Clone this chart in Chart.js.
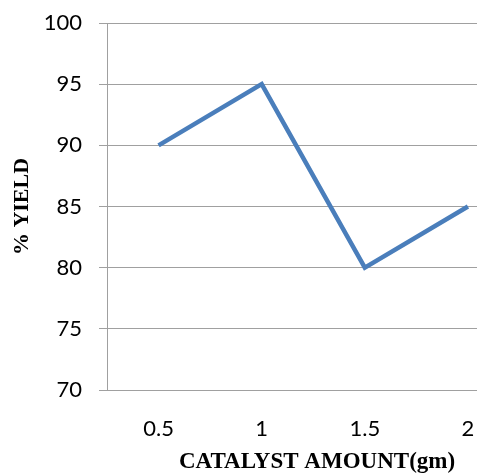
<!DOCTYPE html>
<html>
<head>
<meta charset="utf-8">
<script src="https://cdn.jsdelivr.net/npm/chart.js@4"></script>
<style>
  html, body { margin: 0; padding: 0; background: #fff; }
  #wrap { width: 477px; height: 473px; position: relative; }
</style>
</head>
<body>
<div id="wrap"><canvas id="c" width="477" height="473"></canvas></div>
<script>
// Catalyst amount (gm) versus % yield
const catalystAmount = ['0.5', '1', '1.5', '2'];
const yieldPct = [90, 95, 80, 85];
const yTickValues = [70, 75, 80, 85, 90, 95, 100];
const xTitle = 'CATALYST AMOUNT(gm)';
const yTitle = '% YIELD';

const points = catalystAmount.map((c, i) => ({ x: parseFloat(c), y: yieldPct[i] }));

// Bottom axis caption, drawn under the tick labels
const xCaption = {
  id: 'xCaption',
  afterDraw(chart) {
    const ctx = chart.ctx;
    ctx.save();
    ctx.font = 'bold 23px "Liberation Serif", "Times New Roman", serif';
    ctx.fillStyle = '#000';
    ctx.textAlign = 'center';
    ctx.textBaseline = 'alphabetic';
    ctx.fillText(xTitle, 317, 468);
    ctx.restore();
  }
};

new Chart(document.getElementById('c'), {
  type: 'line',
  data: {
    datasets: [{
      data: points,
      borderColor: '#4a7ebb',
      borderWidth: 4.5,
      pointRadius: 0,
      tension: 0,
      fill: false
    }]
  },
  options: {
    responsive: false,
    animation: false,
    layout: { padding: { top: 23, right: 0, left: 0, bottom: 0 } },
    plugins: { legend: { display: false }, tooltip: { enabled: false } },
    scales: {
      x: {
        type: 'linear',
        min: 0.25,
        max: 2.044,
        afterBuildTicks(scale) {
          scale.ticks = catalystAmount.map(c => ({ value: parseFloat(c) }));
        },
        afterFit(scale) {
          scale.height = 83;
          scale.paddingLeft = 0;
          scale.paddingRight = 0;
        },
        grid: { display: false, drawTicks: false },
        border: { display: true, color: '#a0a0a0', width: 1 },
        ticks: {
          padding: 26,
          color: '#000',
          font: { family: 'Lato, "Open Sans", sans-serif', size: 22 },
          maxRotation: 0,
          autoSkip: false,
          callback(v) {
            const i = catalystAmount.findIndex(c => parseFloat(c) === v);
            return i >= 0 ? catalystAmount[i] : '';
          }
        }
      },
      y: {
        min: 70,
        max: 100,
        afterBuildTicks(scale) {
          scale.ticks = yTickValues.map(v => ({ value: v }));
        },
        afterFit(scale) {
          scale.width = 107;
          scale.paddingTop = 0;
          scale.paddingBottom = 0;
        },
        grid: { color: '#a0a0a0', lineWidth: 1, drawTicks: true, tickLength: 8 },
        border: { display: true, color: '#a0a0a0', width: 1 },
        ticks: {
          padding: 17,
          color: '#000',
          font: { family: 'Lato, "Open Sans", sans-serif', size: 22 }
        },
        title: {
          display: true,
          text: yTitle,
          color: '#000',
          font: { family: '"Liberation Serif", "Times New Roman", serif', size: 22, weight: 'bold', lineHeight: 1 },
          padding: { top: 11, bottom: 0 }
        }
      }
    }
  },
  plugins: [xCaption]
});
</script>
</body>
</html>
